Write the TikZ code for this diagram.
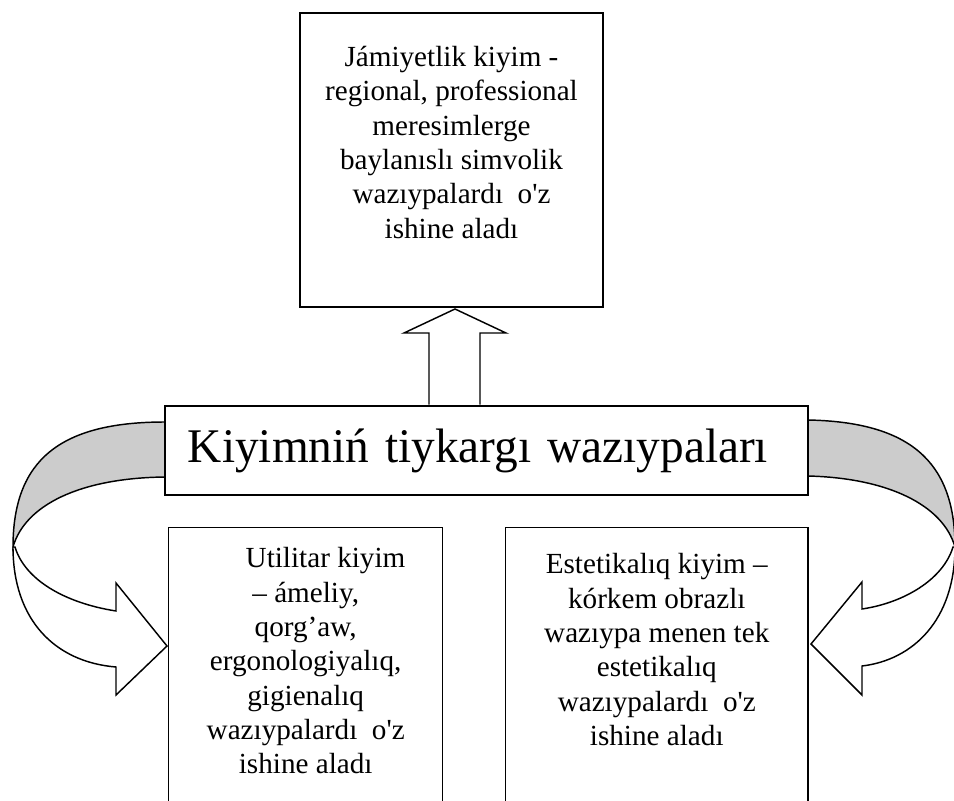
\documentclass[tikz,border=0pt]{standalone}
\usepackage{fontspec}
\setmainfont{Liberation Serif}
\newfontfamily\headfont[FakeStretch=0.978]{Liberation Serif}
\usetikzlibrary{positioning}

\tikzset{
  panel/.style={draw, line width=0.7pt, inner sep=0pt},
  paneltext/.style={align=center, inner sep=0pt, font=\fontsize{14}{16.5}\selectfont},
  titlebox/.style={draw, line width=1.3pt, fill=white, inner xsep=11pt, align=left,
    font=\headfont\fontsize{23.2}{28}\selectfont},
  bandback/.style={draw, line width=0.7pt, fill=black!20},
  bandfront/.style={draw, line width=0.7pt, fill=white},
  blockarrow/.style={draw, line width=0.7pt, fill=white},
}

\begin{document}
\begin{tikzpicture}[x=0.48pt, y=-0.48pt]
\useasboundingbox (0,0) rectangle (954,801);
\clip (0,0) rectangle (954,801);

% Curved arrows, left
\draw[bandback] (165,422) .. controls (60,422) and (13,460) .. (13,547)
  .. controls (25,505) and (80,478) .. (165,477) -- cycle;
\draw[bandfront] (13,547) .. controls (13,620) and (55,662) .. (116,667)
  -- (116,695) -- (167,646) -- (116,583) -- (116,611)
  .. controls (65,603) and (25,580) .. (15,547) -- cycle;

% Curved arrows, right
\draw[bandback] (808,420) .. controls (908,422) and (955,460) .. (955,547)
  .. controls (943,505) and (888,478) .. (808,476) -- cycle;
\draw[bandfront] (955,547) .. controls (955,620) and (913,660) .. (862,666)
  -- (862,695) -- (811,644) -- (862,582) -- (862,609)
  .. controls (903,603) and (943,580) .. (953,547) -- cycle;

% Boxes
\node[panel, minimum width=145.4pt, minimum height=141.1pt] (social) at (451.5,160) {};
\node[titlebox, text width=286.6pt, minimum height=42.7pt] (title) at (486.5,450.5)
  {Kiyimniń tiykargı wazıypaları};
\node[panel, anchor=north west, minimum width=131.5pt, minimum height=140pt] (utility) at (168,527) {};
\node[panel, anchor=north west, minimum width=145pt, minimum height=140pt] (aesthetic) at (505,527) {};

% Up arrow
\draw[blockarrow] (title.north -| 429,0) -- (429,333) -- (404,333) -- (455,309)
  -- (506,333) -- (480,333) -- (title.north -| 480,0);

% Texts
\node[paneltext, below=16pt of social.north] (socialtext)
  {Jámiyetlik kiyim -\\ regional, professional\\ meresimlerge\\ baylanıslı simvolik\\
   wazıypalardı\ \ o\textquotesingle z\\ ishine aladı};
\node[paneltext, below=9.6pt of utility.north] (utilitytext)
  {\hspace*{19pt}Utilitar kiyim\\ – ámeliy,\\ qorg’aw,\\ ergonologiyalıq,\\ gigienalıq\\
   wazıypalardı\ \ o\textquotesingle z\\ ishine aladı};
\node[paneltext, below=12.5pt of aesthetic.north] (aesthetictext)
  {Estetikalıq kiyim –\\ kórkem obrazlı\\ wazıypa menen tek\\ estetikalıq\\
   wazıypalardı\ \ o\textquotesingle z\\ ishine aladı};
\end{tikzpicture}
\end{document}
